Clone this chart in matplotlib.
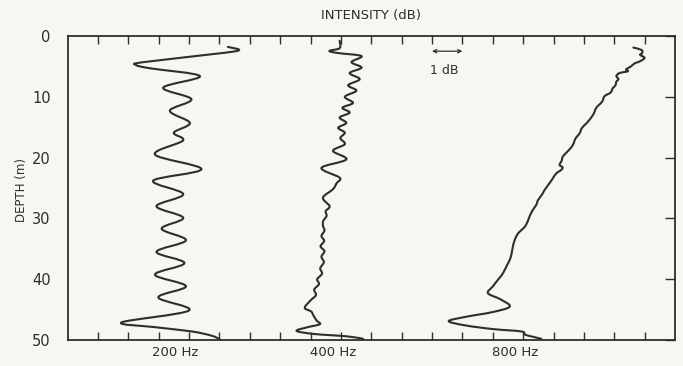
import numpy as np
import matplotlib
matplotlib.use("Agg")
import matplotlib.pyplot as plt
from matplotlib.path import Path
from matplotlib.patches import PathPatch
import matplotlib.transforms as mtransforms

# ---------------- data (depth in m, relative intensity in dB) ----------------
depth_200 = [1.8, 2.3, 2.8, 4.3, 4.75, 5.3, 6.6, 8.5, 10.4, 12.3, 14.3, 15.9, 17.2,
             19.5, 21.9, 23.8, 26.0, 28.0, 29.9, 31.7, 33.6, 35.5, 37.35, 39.25,
             41.15, 43.0, 45.15, 47.1, 47.9, 48.6, 49.3, 49.9]
db_200 = [5.28, 5.65, 5.1, 2.5, 2.25, 2.7, 4.36, 3.15, 4.08, 3.37, 4.03, 3.5, 3.8,
          2.88, 4.41, 2.82, 3.81, 2.93, 3.81, 3.1, 3.9, 2.93, 3.85, 2.88,
          3.9, 2.99, 4.0, 1.78, 2.9, 4.1, 4.75, 5.02]

depth_400 = [0.8, 2.0, 2.45, 2.8, 3.3, 4.3, 5.2, 6.1, 7.1, 8.1, 9.0, 10.0, 11.0, 11.8,
             12.6, 13.4, 14.3, 15.1, 15.9, 16.8, 17.8, 18.9, 20.3, 21.7, 23.3, 24.2,
             25.2, 26.6, 28.0, 28.8, 29.6, 30.4, 31.2, 32.0, 32.9, 33.7, 34.6, 35.4,
             36.3, 37.2, 38.2, 39.1, 40.0, 40.8, 41.7, 42.6, 43.5, 44.7, 45.3, 45.9,
             46.8, 47.4, 47.9, 48.5, 49.0, 49.4, 49.8]
db_400 = [8.96, 8.96, 8.62, 8.9, 9.68, 9.35, 9.68, 9.29, 9.62, 9.24, 9.51, 9.13, 9.40, 9.05,
          9.29, 8.96, 9.18, 8.91, 9.13, 8.98, 9.13, 8.74, 9.18, 8.36, 8.96, 8.86,
          8.74, 8.41, 8.63, 8.5, 8.53, 8.42, 8.41, 8.46, 8.36, 8.45, 8.33, 8.46,
          8.36, 8.44, 8.32, 8.38, 8.22, 8.28, 8.12, 8.18, 8.0, 7.81, 8.02, 8.09,
          8.2, 8.31, 7.9, 7.54, 8.1, 9.2, 9.73]

depth_800 = [1.9, 2.3, 2.8, 3.1, 3.6, 4.2, 4.5, 5.0, 5.5, 5.8, 6.1, 6.6, 7.1, 7.5, 8.1,
             8.6, 9.3, 9.9, 10.8, 11.8, 12.8, 14.0, 15.1, 16.0, 16.9, 17.9, 18.8,
             19.8, 20.5, 21.2, 21.6, 22.0, 22.6, 23.4, 24.2, 25.3, 26.1, 27.0, 27.8,
             28.6, 29.7, 30.5, 31.4, 32.5, 33.6, 34.7, 35.8, 36.8, 37.7, 38.5, 39.3,
             40.1, 41.2, 42.3, 43.3, 44.5, 45.4, 46.2, 46.9, 47.6, 48.2, 48.6, 49.1,
             49.5, 49.8]
db_800 = [18.63, 18.9, 18.92, 18.85, 19.0, 18.83, 18.67, 18.55, 18.39, 18.45, 18.17, 18.07,
          18.14, 18.07, 18.04, 17.95, 17.88, 17.68, 17.6, 17.41, 17.32, 17.15, 16.94, 16.86,
          16.72, 16.64, 16.5, 16.31, 16.27, 16.2, 16.3, 16.26, 16.09, 15.98, 15.87, 15.71,
          15.62, 15.49, 15.43, 15.32, 15.21, 15.15, 15.05, 14.83, 14.72, 14.66, 14.62,
          14.56, 14.47, 14.39, 14.3, 14.17, 14.0, 13.84, 14.25, 14.56, 14.0, 13.1, 12.55,
          13.1, 14.0, 14.95, 15.05, 15.35, 15.6]

freq_labels = ["200 Hz", "400 Hz", "800 Hz"]
freq_label_pos = [3.55, 8.75, 14.75]
depth_ticks = [0, 10, 20, 30, 40, 50]

# ---------------- style ----------------
BG = "#f7f6f2"
INK = "#2e2e2e"
plt.rcParams["font.family"] = ["DejaVu Sans"]


def smooth_path(xs, ys):
    """Catmull-Rom curve through the given points, drawn as cubic Bezier segments."""
    P = np.column_stack([xs, ys]).astype(float)
    ext = np.vstack([P[0], P, P[-1]])
    verts = [P[0]]
    codes = [Path.MOVETO]
    for i in range(1, len(ext) - 2):
        p0, p1, p2, p3 = ext[i - 1], ext[i], ext[i + 1], ext[i + 2]
        c1 = p1 + (p2 - p0) / 6.0
        c2 = p2 - (p3 - p1) / 6.0
        verts += [c1, c2, p2]
        codes += [Path.CURVE4] * 3
    return Path(verts, codes)


fig = plt.figure(figsize=(6.83, 3.66), dpi=100, facecolor=BG)
ax = fig.add_axes([67.5 / 683, 1 - 340 / 366, (675 - 67.5) / 683, 304 / 366])
ax.set_facecolor(BG)

for xs, ys in [(db_200, depth_200), (db_400, depth_400), (db_800, depth_800)]:
    ax.add_patch(PathPatch(smooth_path(xs, ys), fill=False, edgecolor=INK,
                           lw=1.5, capstyle="round", joinstyle="round"))

ax.set_xlim(0, 20)
ax.set_ylim(50, 0)
ax.set_xticks(np.arange(1, 20))
ax.set_xticklabels([])
ax.set_yticks(depth_ticks)
ax.set_yticklabels([str(t) for t in depth_ticks], fontsize=10.5, color=INK)
ax.tick_params(axis="x", direction="in", length=6, width=1.0, color=INK,
               top=True, bottom=True)
ax.tick_params(axis="y", direction="in", length=7, width=1.0, color=INK,
               left=False, right=True, pad=12)
for s in ax.spines.values():
    s.set_color(INK)
    s.set_linewidth(1.3)

# scale bar: 1 dB
ax.annotate("", xy=(13.0, 2.5), xytext=(12.0, 2.5),
            arrowprops=dict(arrowstyle="<->", lw=0.9, color=INK,
                            shrinkA=0, shrinkB=0, mutation_scale=6))
ax.text(11.95, 5.6, "1 dB", fontsize=9, color=INK, ha="left", va="center")

trans = mtransforms.blended_transform_factory(ax.transData, ax.transAxes)
for lab, pos in zip(freq_labels, freq_label_pos):
    ax.text(pos, -0.04, lab, transform=trans, ha="center", va="center",
            fontsize=9.5, color=INK)

fig.text(371 / 683, 1 - 16 / 366, "INTENSITY (dB)", ha="center", va="center",
         fontsize=9.5, color=INK)
fig.text(22 / 683, 1 - 190 / 366, "DEPTH (m)", ha="center", va="center",
         rotation=90, fontsize=8.5, color=INK)

fig.savefig("out.png", dpi=100, facecolor=BG)
